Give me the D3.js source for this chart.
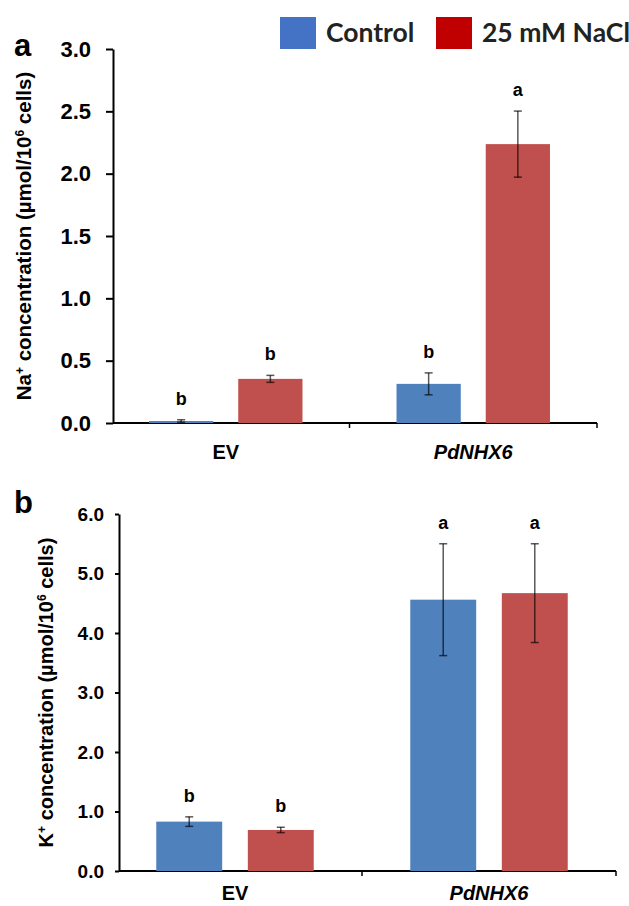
<!DOCTYPE html>
<html>
<head>
<meta charset="utf-8">
<script src="https://cdn.jsdelivr.net/npm/d3@7"></script>
<style>
  body { margin: 0; background: #fff; }
  svg text { font-family: "Liberation Sans", Arial, sans-serif; font-weight: bold; fill: #000; }
</style>
</head>
<body>
<div id="chart"></div>
<script>
// data
var lines = ['EV', 'PdNHX6'];
var treatments = ['Control', '25 mM NaCl'];
var naMean = [[0.016, 0.354], [0.314, 2.237]];
var naErr = [[0.01, 0.028], [0.088, 0.265]];
var naSig = [['b', 'b'], ['b', 'a']];
var kMean = [[0.83, 0.69], [4.56, 4.67]];
var kErr = [[0.08, 0.045], [0.94, 0.83]];
var kSig = [['b', 'b'], ['a', 'a']];
var naTicks = [0, 0.5, 1, 1.5, 2, 2.5, 3];
var kTicks = [0, 1, 2, 3, 4, 5, 6];

var barColors = ['#4F81BD', '#C0504D'];
var legendColors = ['#4472C4', '#C00000'];

var svg = d3.select('#chart').append('svg')
  .attr('width', 629)
  .attr('height', 906);

function drawPanel(opt) {
  var g = svg.append('g');

  var y = d3.scaleLinear().domain([0, opt.max]).range([opt.y0, opt.y1]);
  var x = d3.scaleBand().domain(lines).range([opt.xLeft, opt.xRight]);
  var bw = x.bandwidth();

  // y axis
  var yAxis = d3.axisLeft(y).tickValues(opt.ticks).tickFormat(d3.format('.1f'))
    .tickSizeInner(opt.tick).tickSizeOuter(0).tickPadding(opt.pad);
  var ya = g.append('g').attr('transform', 'translate(' + opt.axisX + ',0)').call(yAxis);
  ya.select('.domain').attr('stroke', '#000').attr('stroke-width', 2);
  ya.selectAll('.tick line').attr('stroke', '#000').attr('stroke-width', 2);
  ya.selectAll('.tick text').style('font-size', opt.tickFont + 'px')
    .style('font-family', '"Liberation Sans", Arial, sans-serif').style('font-weight', 'bold');

  // x axis line + band boundary ticks
  g.append('line')
    .attr('x1', opt.axisX).attr('x2', opt.xRight)
    .attr('y1', opt.y0).attr('y2', opt.y0)
    .attr('stroke', '#000').attr('stroke-width', 2);
  lines.forEach(function(l) {
    var xe = x(l) + bw;
    g.append('line')
      .attr('x1', xe).attr('x2', xe)
      .attr('y1', opt.y0).attr('y2', opt.y0 + 5)
      .attr('stroke', '#000').attr('stroke-width', 1.5);
  });

  lines.forEach(function(l, i) {
    var cx = x(l) + bw / 2;
    var span = bw * 0.62;
    var inner = d3.scaleBand().domain(treatments)
      .range([cx - span / 2, cx + span / 2]).paddingInner(0.28).paddingOuter(0);

    treatments.forEach(function(t, j) {
      var m = opt.mean[i][j], e = opt.err[i][j];
      var bx = inner(t), w = inner.bandwidth(), mx = bx + w / 2;
      g.append('rect')
        .attr('x', bx).attr('y', y(m))
        .attr('width', w).attr('height', opt.y0 - y(m))
        .attr('fill', barColors[j]);

      // error bar
      g.append('line')
        .attr('x1', mx).attr('x2', mx)
        .attr('y1', y(m + e)).attr('y2', y(Math.max(m - e, 0)))
        .attr('stroke', '#000').attr('stroke-opacity', 0.65).attr('stroke-width', 1.5);
      [m + e, Math.max(m - e, 0)].forEach(function(v) {
        g.append('line')
          .attr('x1', mx - 4).attr('x2', mx + 4)
          .attr('y1', y(v)).attr('y2', y(v))
          .attr('stroke', '#000').attr('stroke-opacity', 0.65).attr('stroke-width', 1.5);
      });

      g.append('text')
        .attr('x', mx).attr('y', y(m + e) - 15)
        .attr('text-anchor', 'middle')
        .style('font-size', '18px')
        .text(opt.sig[i][j]);
    });

    g.append('text')
      .attr('x', cx).attr('y', opt.catY)
      .attr('text-anchor', 'middle')
      .style('font-size', opt.catFont + 'px')
      .style('font-style', i === 1 ? 'italic' : 'normal')
      .text(l);
  });

  // y title
  var ty = g.append('text')
    .attr('transform', 'translate(' + opt.titleX + ',' + ((opt.y0 + opt.y1) / 2) + ') rotate(-90)')
    .attr('text-anchor', 'middle')
    .style('font-size', opt.titleFont + 'px');
  ty.append('tspan').text(opt.ion);
  ty.append('tspan').attr('dy', -7).style('font-size', '12px').text('+');
  ty.append('tspan').attr('dy', 7).text(opt.titleMid + 'µmol/10');
  ty.append('tspan').attr('dy', -7).style('font-size', '12px').text('6');
  ty.append('tspan').attr('dy', 7).text(' cells)');

  // panel letter
  g.append('text')
    .attr('x', opt.labelX).attr('y', opt.labelY)
    .style('font-size', '31px')
    .text(opt.label);
}

drawPanel({
  label: 'a', labelX: 14, labelY: 56,
  max: 3, ticks: naTicks, y0: 423, y1: 49,
  axisX: 113, xLeft: 102, xRight: 597,
  tick: 7, pad: 15, tickFont: 22,
  mean: naMean, err: naErr, sig: naSig,
  catY: 459, catFont: 20,
  ion: 'Na', titleMid: ' concentration (', titleX: 31, titleFont: 20.5
});

drawPanel({
  label: 'b', labelX: 14, labelY: 513,
  max: 6, ticks: kTicks, y0: 871, y1: 514,
  axisX: 119, xLeft: 108, xRight: 616,
  tick: 4, pad: 11, tickFont: 19,
  mean: kMean, err: kErr, sig: kSig,
  catY: 900, catFont: 20,
  ion: 'K', titleMid: ' concentration  (', titleX: 53, titleFont: 20
});

// legend
var legend = svg.append('g');
treatments.forEach(function(t, j) {
  var lx = [280, 436][j];
  legend.append('rect')
    .attr('x', lx).attr('y', 17).attr('width', 36).attr('height', 32)
    .attr('fill', legendColors[j]);
  legend.append('text')
    .attr('x', lx + 46).attr('y', 42)
    .style('font-family', 'Lato, "Open Sans", sans-serif')
    .style('font-weight', 'bold')
    .style('font-size', '26.5px')
    .style('fill', '#222')
    .text(t);
});
</script>
</body>
</html>
